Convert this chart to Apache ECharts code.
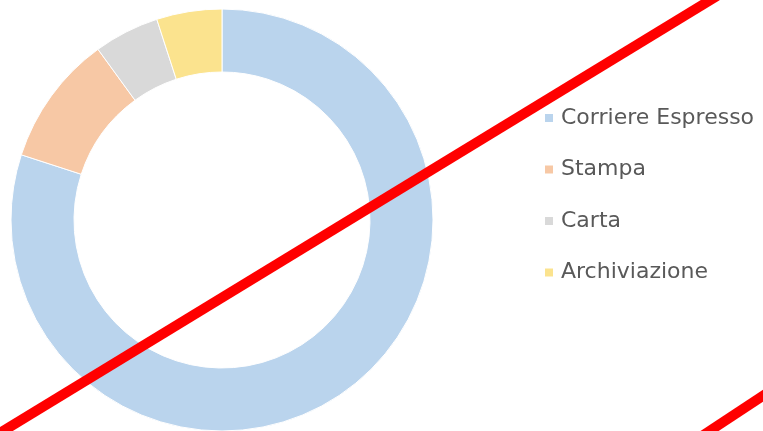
<!DOCTYPE html>
<html><head><meta charset="utf-8">
<script src="https://cdn.jsdelivr.net/npm/echarts@6/dist/echarts.min.js"></script>
<style>html,body{margin:0;padding:0;background:#fff}#c{width:763px;height:431px}</style>
</head><body><div id="c"></div>
<script>
const categories = ["Corriere Espresso", "Stampa", "Carta", "Archiviazione"];
const values = [80, 10, 5, 5];
const colors = ["#bad4ed", "#f7c8a5", "#d9d9d9", "#fbe38e"];

const chart = echarts.init(document.getElementById('c'));
chart.setOption({
  backgroundColor: '#ffffff',
  animation: false,
  legend: {
    orient: 'vertical',
    left: 538,
    top: 102,
    itemGap: 29.5,
    itemWidth: 10,
    itemHeight: 10,
    icon: 'rect',
    data: categories,
    textStyle: { fontFamily: 'DejaVu Sans', fontSize: 22, color: '#595959', padding: [0, 0, 0, 2] }
  },
  series: [{
    type: 'pie',
    center: [222, 220],
    radius: [148, 211],
    startAngle: 90,
    clockwise: true,
    label: { show: false },
    labelLine: { show: false },
    itemStyle: { borderColor: '#ffffff', borderWidth: 1 },
    data: categories.map((n, i) => ({ name: n, value: values[i], itemStyle: { color: colors[i] } }))
  }],
  graphic: [
    { type: 'line', shape: { x1: -5, y1: 436, x2: 717, y2: -4 }, style: { stroke: '#ff0000', lineWidth: 10 }, z: 100 },
    { type: 'line', shape: { x1: 702, y1: 436, x2: 770, y2: 391 }, style: { stroke: '#ff0000', lineWidth: 10 }, z: 100 }
  ]
});
</script></body></html>
